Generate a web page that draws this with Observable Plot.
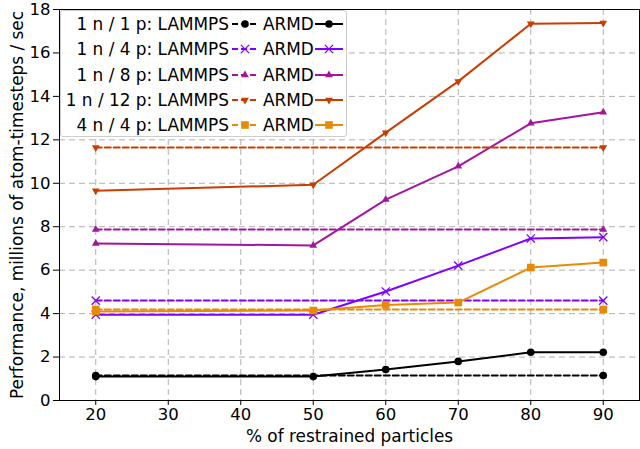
<!DOCTYPE html>
<html>
<head>
<meta charset="utf-8">
<script src="https://cdn.jsdelivr.net/npm/d3@7"></script>
<script src="https://cdn.jsdelivr.net/npm/@observablehq/plot@0.6"></script>
<style>
  body { margin: 0; background: #fff; }
  #wrap { position: relative; width: 640px; height: 449px; font-family: "DejaVu Sans", sans-serif; }
  #legend { position: absolute; left: 60px; top: 10px; width: 287px; height: 127px; box-sizing: border-box;
    background: rgba(255,255,255,0.85); border: 1px solid #cccccc; border-radius: 3px; font-size: 16.9px; color: #000; }
  .row { position: absolute; left: 0; height: 24px; line-height: 24px; width: 100%; }
  .lab { position: absolute; right: 117px; white-space: nowrap; }
  .arm { position: absolute; left: 202px; white-space: nowrap; }
  .sw1 { position: absolute; left: 170px; top: 2px; }
  .sw2 { position: absolute; left: 254px; top: 2px; }
</style>
</head>
<body>
<div id="wrap"></div>
<script>
const xValues = [20, 50, 60, 70, 80, 90];
const seriesNames = ["1 n / 1 p", "1 n / 4 p", "1 n / 8 p", "1 n / 12 p", "4 n / 4 p"];
const armd_1n1p  = [1.10, 1.10, 1.43, 1.80, 2.22, 2.22];
const armd_1n4p  = [3.95, 3.95, 5.02, 6.21, 7.46, 7.52];
const armd_1n8p  = [7.23, 7.14, 9.25, 10.78, 12.76, 13.27];
const armd_1n12p = [9.66, 9.93, 12.33, 14.69, 17.34, 17.38];
const armd_4n4p  = [4.10, 4.14, 4.40, 4.51, 6.12, 6.35];
const lammpsX = [20, 90];
const lammpsValues = [1.15, 4.60, 7.87, 11.65, 4.19];
const xTicks = [20, 30, 40, 50, 60, 70, 80, 90];
const yTicks = [0, 2, 4, 6, 8, 10, 12, 14, 16, 18];

const colors = ["#000000", "#7f00ff", "#a3159f", "#c93d00", "#e88a08"];
const triDown = {
  draw(ctx, size) {
    const s = Math.sqrt(size / (3 * Math.sqrt(3) / 4));
    const h = s * Math.sqrt(3) / 2;
    ctx.moveTo(0, h * 2 / 3);
    ctx.lineTo(s / 2, -h / 3);
    ctx.lineTo(-s / 2, -h / 3);
    ctx.closePath();
  }
};
const triUp = {
  draw(ctx, size) {
    const s = Math.sqrt(size / (3 * Math.sqrt(3) / 4));
    const h = s * Math.sqrt(3) / 2;
    ctx.moveTo(0, -h * 2 / 3);
    ctx.lineTo(s / 2, h / 3);
    ctx.lineTo(-s / 2, h / 3);
    ctx.closePath();
  }
};
const symbols = ["circle", "times", triUp, triDown, "square"];
const symR = [3.8, 3.8, 5.0, 5.0, 4.3];

const armdAll = [armd_1n1p, armd_1n4p, armd_1n8p, armd_1n12p, armd_4n4p];
const armdRows = [];
armdAll.forEach((vals, i) => vals.forEach((v, j) => armdRows.push({series: i, x: xValues[j], y: v})));
const lammpsRows = [];
lammpsValues.forEach((v, i) => lammpsX.forEach(x => lammpsRows.push({series: i, x, y: v})));

const marks = [
  Plot.gridX(xTicks, {stroke: "#b0b0b0", strokeOpacity: 1, strokeDasharray: "6,4", strokeWidth: 1}),
  Plot.gridY(yTicks, {stroke: "#b0b0b0", strokeOpacity: 1, strokeDasharray: "6,4", strokeWidth: 1}),
];
for (let i = 0; i < seriesNames.length; i++) {
  const lam = lammpsRows.filter(d => d.series === i);
  const arm = armdRows.filter(d => d.series === i);
  const isTimes = symbols[i] === "times";
  marks.push(Plot.line(lam, {x: "x", y: "y", stroke: colors[i], strokeWidth: 2, strokeDasharray: "6,3"}));
  marks.push(Plot.line(arm, {x: "x", y: "y", stroke: colors[i], strokeWidth: 2}));
  const dotOpts = isTimes
    ? {x: "x", y: "y", symbol: symbols[i], r: symR[i], stroke: colors[i], strokeWidth: 1.3}
    : {x: "x", y: "y", symbol: symbols[i], r: symR[i], fill: colors[i], stroke: "none"};
  marks.push(Plot.dot(lam, dotOpts));
  marks.push(Plot.dot(arm, dotOpts));
}
marks.push(
  Plot.frame({stroke: "#000", strokeWidth: 1}),
  Plot.axisX(xTicks, {tickSize: 5, tickPadding: 3, fontSize: 16.5, label: null, stroke: "#000"}),
  Plot.axisY(yTicks, {tickSize: 6, tickPadding: 3, fontSize: 16.5, label: null, stroke: "#000"}),
  Plot.text(["% of restrained particles"], {frameAnchor: "bottom", lineAnchor: "middle", textAnchor: "middle", dy: 36, fontSize: 16.9, fill: "#000"}),
  Plot.text(["Performance, millions of atom-timesteps / sec"], {frameAnchor: "left", textAnchor: "middle", lineAnchor: "middle", dx: -42, rotate: -90, fontSize: 16.9, fill: "#000"})
);

const chart = Plot.plot({
  width: 640, height: 449,
  marginTop: 9, marginBottom: 49, marginLeft: 59, marginRight: 1,
  style: {fontFamily: "DejaVu Sans, sans-serif", fontSize: "16px", color: "#000", background: "#fff"},
  x: {domain: [15, 95], label: null},
  y: {domain: [0, 18], label: null},
  marks
});
const wrap = document.getElementById("wrap");
wrap.appendChild(chart);

// Legend
function swatch(i, dashed) {
  const w = 28, h = 20;
  const c = colors[i];
  const sym = d3.symbol().type(
    i === 0 ? d3.symbolCircle : i === 1 ? d3.symbolTimes : i === 4 ? d3.symbolSquare : (i === 2 ? triUp : triDown)
  ).size(Math.PI * symR[i] * symR[i])();
  const isTimes = i === 1;
  return `<svg width="${w}" height="${h}" style="overflow:visible">
    <line x1="0" x2="${w}" y1="${h/2}" y2="${h/2}" stroke="${c}" stroke-width="2" ${dashed ? 'stroke-dasharray="6,3" stroke-dashoffset="-1"' : ''}/>
    <path d="${sym}" transform="translate(${w/2},${h/2})" ${isTimes ? `fill="none" stroke="${c}" stroke-width="1.3"` : `fill="${c}"`}/>
  </svg>`;
}
const leg = document.createElement("div");
leg.id = "legend";
seriesNames.forEach((name, i) => {
  const row = document.createElement("div");
  row.className = "row";
  row.style.top = (1 + i * 25.3) + "px";
  row.innerHTML = `<span class="lab">${name}: LAMMPS</span>${'<span class="sw1">' + swatch(i, true) + '</span>'}<span class="arm">ARMD</span><span class="sw2">${swatch(i, false)}</span>`;
  leg.appendChild(row);
});
wrap.appendChild(leg);
</script>
</body>
</html>
